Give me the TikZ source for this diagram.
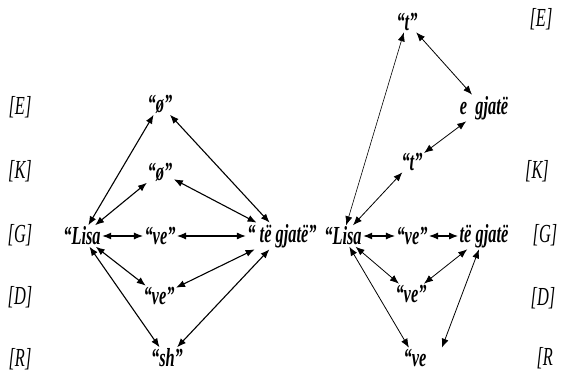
\documentclass[tikz,border=0pt]{standalone}
\usepackage{fontspec}
\setmainfont{Liberation Serif}[FakeStretch=0.63]
\usetikzlibrary{positioning,arrows.meta}

\begin{document}
\begin{tikzpicture}[x=1pt,y=-1pt,<->,>={Latex[length=9pt,width=7pt]},line width=1.1pt,
        word/.style = {font=\fontsize{26}{28}\selectfont\bfseries\itshape, inner sep=1pt},
        lvl/.style = {font=\fontsize{26}{28}\selectfont\itshape, inner sep=0pt}]
    \useasboundingbox (0,0) rectangle (568,374);
    % levels, left
    \node[lvl] (lE) at (20,107) {[E]};
    \node[lvl] (lK) at (20,171) {[K]};
    \node[lvl] (lG) at (20,235) {[G]};
    \node[lvl] (lD) at (20,297) {[D]};
    \node[lvl] (lR) at (20,359) {[R]};
    % levels, right
    \node[lvl] (rE) at (541,19) {[E]};
    \node[lvl] (rK) at (537,171) {[K]};
    \node[lvl] (rG) at (545,235) {[G]};
    \node[lvl] (rD) at (543,298) {[D]};
    \node[lvl, anchor=west] (rR) at (536,358) {[R};
    % left graph
    \node[word] (top1) at (160,104) {“ø”};
    \node[word] (mid1) at (160,172) {“ø”};
    \node[word] (lisa1) at (82,236) {“Lisa};
    \node[word] (ve1) at (160,236) {“ve”};
    \node[word] (gj1) at (282,236) {“ të gjatë”};
    \node[word] (ve1b) at (159,296) {“ve”};
    \node[word] (sh1) at (167,358) {“sh”};
    \draw (lisa1) -- (top1);
    \draw (top1) -- (gj1);
    \draw (lisa1) -- (mid1);
    \draw (mid1) -- (gj1);
    \draw (lisa1) -- (ve1);
    \draw (ve1) -- (gj1);
    \draw (lisa1) -- (ve1b);
    \draw (ve1b) -- (gj1);
    \draw (lisa1) -- (sh1);
    \draw (sh1) -- (gj1);
    % right graph
    \node[word] (t2) at (407,22) {“t”};
    \node[word] (eg2) at (484,108) {e\ \ gjatë};
    \node[word] (tm2) at (412,162) {“t”};
    \node[word] (lisa2) at (343,236) {“Lisa};
    \node[word] (ve2) at (412,236) {“ve”};
    \node[word] (gj2) at (484,236) {të gjatë};
    \node[word] (ve2b) at (411,294) {“ve”};
    \node[word] (ve2c) at (415,358) {“ve};
    \draw[line width=0.6pt] (lisa2) -- (t2);
    \draw[line width=0.8pt] (t2) -- (eg2);
    \draw[line width=0.8pt] (eg2) -- (tm2);
    \draw[line width=0.8pt] (tm2) -- (lisa2);
    \draw (lisa2) -- (ve2);
    \draw (ve2) -- (gj2);
    \draw[line width=0.8pt] (lisa2) -- (ve2b);
    \draw[line width=0.8pt] (ve2b) -- (gj2);
    \draw[line width=0.8pt] (lisa2) -- (ve2c);
    \draw[line width=0.8pt] ([xshift=14pt]ve2c.north east) -- (gj2);
\end{tikzpicture}
\end{document}
